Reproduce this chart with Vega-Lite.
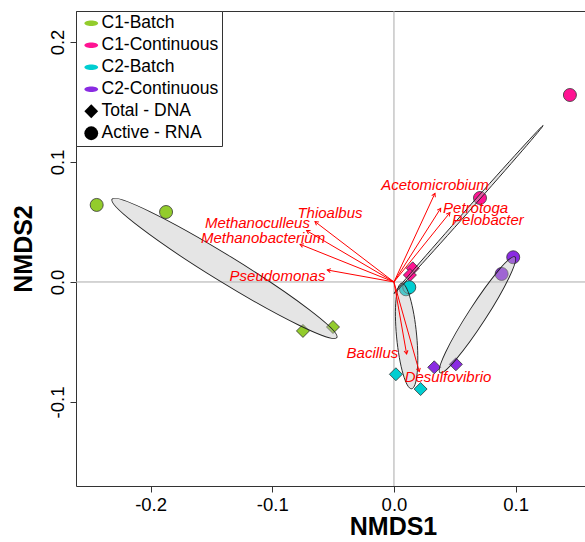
{
  "$schema": "https://vega.github.io/schema/vega-lite/v6.json",
  "width": 509,
  "height": 475,
  "autosize": {"type": "none"},
  "padding": {"left": 76, "top": 11, "right": 0, "bottom": 56},
  "background": "white",
  "config": {"font": "Liberation Sans", "view": {"stroke": null}, "axis": {"grid": false}},
  "resolve": {"axis": {"x": "independent", "y": "independent"}},
  "datasets": {
    "samples": [
      {"group": "C1-Batch", "type": "Active - RNA", "NMDS1": -0.2443, "NMDS2": 0.0642},
      {"group": "C1-Batch", "type": "Active - RNA", "NMDS1": -0.1873, "NMDS2": 0.0583},
      {"group": "C1-Batch", "type": "Total - DNA", "NMDS1": -0.0748, "NMDS2": -0.0408},
      {"group": "C1-Batch", "type": "Total - DNA", "NMDS1": -0.0501, "NMDS2": -0.0375},
      {"group": "C1-Continuous", "type": "Active - RNA", "NMDS1": 0.1446, "NMDS2": 0.1558},
      {"group": "C1-Continuous", "type": "Active - RNA", "NMDS1": 0.0707, "NMDS2": 0.07},
      {"group": "C1-Continuous", "type": "Total - DNA", "NMDS1": 0.0154, "NMDS2": 0.0114},
      {"group": "C1-Continuous", "type": "Total - DNA", "NMDS1": 0.0131, "NMDS2": 0.0058},
      {"group": "C2-Batch", "type": "Active - RNA", "NMDS1": 0.0099, "NMDS2": -0.0061},
      {"group": "C2-Batch", "type": "Active - RNA", "NMDS1": 0.0126, "NMDS2": -0.0044},
      {"group": "C2-Batch", "type": "Total - DNA", "NMDS1": 0.0016, "NMDS2": -0.0769},
      {"group": "C2-Batch", "type": "Total - DNA", "NMDS1": 0.0219, "NMDS2": -0.0892},
      {"group": "C2-Continuous", "type": "Active - RNA", "NMDS1": 0.098, "NMDS2": 0.0206},
      {"group": "C2-Continuous", "type": "Active - RNA", "NMDS1": 0.0885, "NMDS2": 0.0067},
      {"group": "C2-Continuous", "type": "Total - DNA", "NMDS1": 0.0331, "NMDS2": -0.0711},
      {"group": "C2-Continuous", "type": "Total - DNA", "NMDS1": 0.0509, "NMDS2": -0.0686}
    ],
    "vectors": [
      {"genus": "Acetomicrobium", "NMDS1": 0.0337, "NMDS2": 0.0739, "lx": 0.0337, "ly": 0.0808},
      {"genus": "Petrotoga", "NMDS1": 0.0384, "NMDS2": 0.0614, "lx": 0.0671, "ly": 0.0619},
      {"genus": "Pelobacter", "NMDS1": 0.046, "NMDS2": 0.0578, "lx": 0.0772, "ly": 0.0517},
      {"genus": "Thioalbus", "NMDS1": -0.0649, "NMDS2": 0.0503, "lx": -0.0526, "ly": 0.0573},
      {"genus": "Methanoculleus", "NMDS1": -0.0718, "NMDS2": 0.0428, "lx": -0.1122, "ly": 0.0489},
      {"genus": "Methanobacterium", "NMDS1": -0.0772, "NMDS2": 0.0314, "lx": -0.1076, "ly": 0.0364},
      {"genus": "Pseudomonas", "NMDS1": -0.0548, "NMDS2": 0.01, "lx": -0.0957, "ly": 0.0053},
      {"genus": "Bacillus", "NMDS1": 0.0104, "NMDS2": -0.06, "lx": -0.0177, "ly": -0.0589},
      {"genus": "Desulfovibrio", "NMDS1": 0.0208, "NMDS2": -0.0747, "lx": 0.0444, "ly": -0.0789}
    ]
  },
  "layer": [
    {
      "data": {"values": [{}]},
      "mark": {"type": "rule", "color": "#aaaaaa", "strokeWidth": 1},
      "encoding": {"x": {"datum": 0, "type": "quantitative", "scale": {"domain": [-0.2613, 0.157], "nice": false, "zero": false}, "axis": null}}
    },
    {
      "data": {"values": [{}]},
      "mark": {"type": "rule", "color": "#aaaaaa", "strokeWidth": 1},
      "encoding": {"y": {"datum": 0, "type": "quantitative", "scale": {"domain": [-0.17, 0.2258], "nice": false, "zero": false}, "axis": null}}
    },
    {
      "data": {"name": "samples"},
      "mark": {"type": "point", "filled": true, "opacity": 1, "size": 169, "stroke": "#333333", "strokeWidth": 0.8},
      "encoding": {
        "x": {"field": "NMDS1", "type": "quantitative", "scale": {"domain": [-0.2613, 0.157], "nice": false, "zero": false},
          "axis": {"orient": "bottom", "values": [-0.2, -0.1, 0, 0.1], "labelExpr": "replace(format(datum.value, '.1f'), '\u2212', '-')",
            "labelFontSize": 18.5, "labelColor": "black", "labelFont": "Liberation Sans", "tickSize": 6, "tickColor": "#333333", "domainColor": "#333333",
            "labelPadding": 3, "labelFlush": false, "title": "NMDS1", "titleFontSize": 25, "titleFontWeight": "bold", "titleColor": "black", "titlePadding": 1, "titleX": 317, "grid": false}},
        "y": {"field": "NMDS2", "type": "quantitative", "scale": {"domain": [-0.17, 0.2258], "nice": false, "zero": false},
          "axis": {"orient": "left", "values": [-0.1, 0, 0.1, 0.2], "labelExpr": "replace(format(datum.value, '.1f'), '\u2212', '-')",
            "labelAngle": -90, "labelAlign": "center", "labelBaseline": "bottom", "labelFlush": false,
            "labelFontSize": 18.5, "labelColor": "black", "tickSize": 6, "tickColor": "#333333", "domainColor": "#333333",
            "labelPadding": 3, "title": "NMDS2", "titleFontSize": 25, "titleFontWeight": "bold", "titleColor": "black", "titlePadding": 12, "grid": false}},
        "color": {"field": "group", "type": "nominal",
          "scale": {"domain": ["C1-Batch", "C1-Continuous", "C2-Batch", "C2-Continuous", "Total - DNA", "Active - RNA"],
                    "range": ["#93cc2c", "#ff1493", "#00ced1", "#8a2be2", "black", "black"]},
          "legend": {"orient": "none", "legendX": 0, "legendY": 0, "title": null, "padding": 3.5,
            "strokeColor": "#333333", "fillColor": "white", "cornerRadius": 0,
            "labelFontSize": 17.5, "labelFont": "Liberation Sans", "labelColor": "black", "labelLimit": 300,
            "symbolSize": 190, "symbolStrokeWidth": 0, "symbolOpacity": 1, "symbolOffset": 3, "labelOffset": 1.5, "rowPadding": 3}},
        "shape": {"field": "type", "type": "nominal",
          "scale": {"domain": ["C1-Batch", "C1-Continuous", "C2-Batch", "C2-Continuous", "Total - DNA", "Active - RNA"],
                    "range": ["M-1,0A1,0.4 0 1,0 1,0A1,0.4 0 1,0 -1,0Z", "M-1,0A1,0.4 0 1,0 1,0A1,0.4 0 1,0 -1,0Z", "M-1,0A1,0.4 0 1,0 1,0A1,0.4 0 1,0 -1,0Z", "M-1,0A1,0.4 0 1,0 1,0A1,0.4 0 1,0 -1,0Z", "diamond", "circle"]},
          "legend": {"orient": "none", "legendX": 0, "legendY": 0, "title": null, "padding": 3.5,
            "strokeColor": "#333333", "fillColor": "white", "cornerRadius": 0,
            "labelFontSize": 17.5, "labelFont": "Liberation Sans", "labelColor": "black", "labelLimit": 300,
            "symbolSize": 190, "symbolStrokeWidth": 0, "symbolOpacity": 1, "symbolOffset": 3, "labelOffset": 1.5, "rowPadding": 3}}
      }
    },
    {
      "data": {"values": [{"group": "C1-Batch", "NMDS1": -0.1393, "NMDS2": 0.0113}]},
      "mark": {"type": "point", "shape": "M-1,0A1,0.1 0 1,0 1,0A1,0.1 0 1,0 -1,0Z", "size": 69696, "angle": 31.6, "filled": true, "fill": "#bebebe", "fillOpacity": 0.4, "opacity": 1, "stroke": "#222222", "strokeWidth": 0.9},
      "encoding": {
        "x": {"field": "NMDS1", "type": "quantitative",
          "axis": {"orient": "top", "labels": false, "ticks": false, "title": null, "domainColor": "#333333", "grid": false}},
        "y": {"field": "NMDS2", "type": "quantitative", "axis": null}
      }
    },
    {
      "data": {"values": [{"group": "C2-Batch", "NMDS1": 0.0104, "NMDS2": -0.045}]},
      "mark": {"type": "point", "shape": "M-1,0A1,0.19 0 1,0 1,0A1,0.19 0 1,0 -1,0Z", "size": 11236, "angle": 84.6, "filled": true, "fill": "#bebebe", "fillOpacity": 0.4, "opacity": 1, "stroke": "#222222", "strokeWidth": 0.9},
      "encoding": {
        "x": {"field": "NMDS1", "type": "quantitative", "axis": null},
        "y": {"field": "NMDS2", "type": "quantitative", "axis": null}
      }
    },
    {
      "data": {"values": [{"group": "C2-Continuous", "NMDS1": 0.0686, "NMDS2": -0.0273}]},
      "mark": {"type": "point", "shape": "M-1,0A1,0.13 0 1,0 1,0A1,0.13 0 1,0 -1,0Z", "size": 19044, "angle": -57.1, "filled": true, "fill": "#bebebe", "fillOpacity": 0.4, "opacity": 1, "stroke": "#222222", "strokeWidth": 0.9},
      "encoding": {
        "x": {"field": "NMDS1", "type": "quantitative", "axis": null},
        "y": {"field": "NMDS2", "type": "quantitative", "axis": null}
      }
    },
    {
      "data": {"values": [{"group": "C1-Continuous", "NMDS1": 0.0613, "NMDS2": 0.0604}]},
      "mark": {"type": "point", "shape": "M-1,0A1,0.014 0 1,0 1,0A1,0.014 0 1,0 -1,0Z", "size": 50445, "angle": -48.4, "filled": true, "fill": "#bebebe", "fillOpacity": 0.4, "opacity": 1, "stroke": "#222222", "strokeWidth": 0.9},
      "encoding": {
        "x": {"field": "NMDS1", "type": "quantitative", "axis": null},
        "y": {"field": "NMDS2", "type": "quantitative", "axis": null}
      }
    },
    {
      "data": {"name": "vectors"},
      "mark": {"type": "rule", "color": "#ff0000", "strokeWidth": 1},
      "encoding": {
        "x": {"field": "NMDS1", "type": "quantitative", "axis": null},
        "y": {"field": "NMDS2", "type": "quantitative", "axis": null},
        "x2": {"datum": 0},
        "y2": {"datum": 0}
      }
    },
    {
      "data": {"name": "vectors"},
      "transform": [{"calculate": "90 - atan2(datum.NMDS2 * 1200, datum.NMDS1 * 1217) * 180 / PI", "as": "ang"}],
      "mark": {"type": "point", "shape": "M-1,1.7L0,0L1,1.7", "filled": false, "opacity": 1, "size": 16, "stroke": "#ff0000", "strokeWidth": 1},
      "encoding": {
        "x": {"field": "NMDS1", "type": "quantitative", "axis": null},
        "y": {"field": "NMDS2", "type": "quantitative", "axis": null},
        "angle": {"field": "ang", "type": "quantitative", "scale": null}
      }
    },
    {
      "data": {"name": "vectors"},
      "mark": {"type": "text", "color": "#ff0000", "fontStyle": "italic", "fontSize": 15, "font": "Liberation Sans", "align": "center", "baseline": "middle"},
      "encoding": {
        "x": {"field": "lx", "type": "quantitative", "axis": null},
        "y": {"field": "ly", "type": "quantitative", "axis": null},
        "text": {"field": "genus", "type": "nominal"}
      }
    }
  ]
}
